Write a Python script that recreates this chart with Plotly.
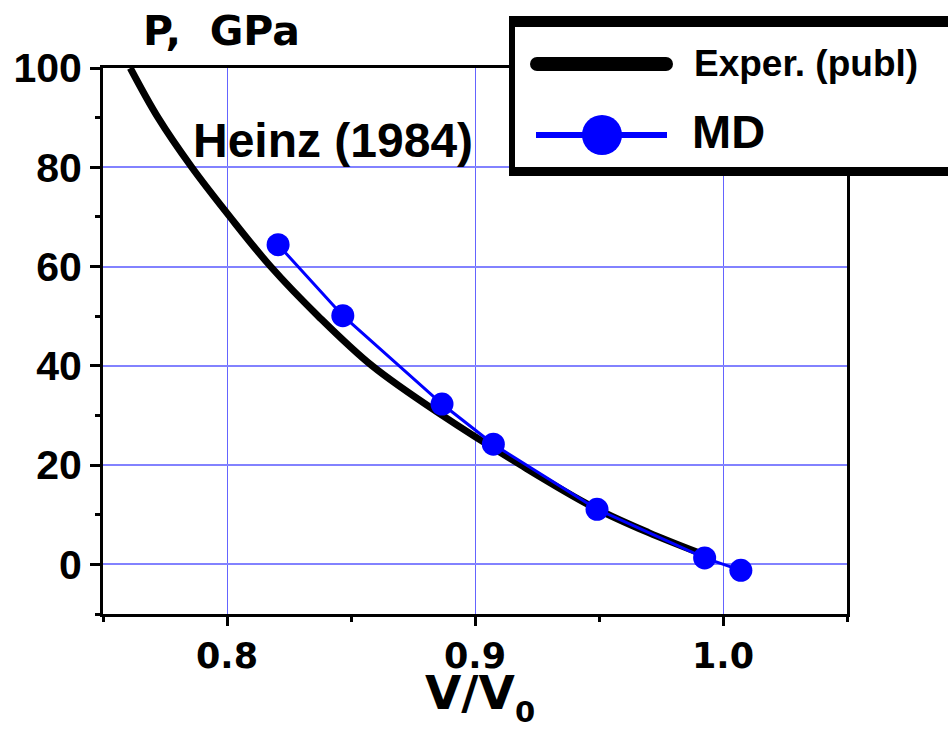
import plotly.graph_objects as go

# Published experimental isotherm (Heinz 1984), sampled along the curve
exp_v = [0.761, 0.7722, 0.7858, 0.8012, 0.8176, 0.8368, 0.8585, 0.8868, 0.9185, 0.9478, 0.970, 0.990]
exp_p = [100.0, 90.0, 80.0, 70.0, 60.0, 50.0, 40.0, 30.0, 20.0, 11.5, 6.4, 2.4]

# Molecular-dynamics results
md_v = [0.8206, 0.8467, 0.8867, 0.9074, 0.9492, 0.9926, 1.0072]
md_p = [64.4, 50.1, 32.3, 24.2, 11.1, 1.3, -1.2]

x_ticks = [0.8, 0.9, 1.0]
x_ticklabels = ["0.8", "0.9", "1.0"]
y_ticks = [0, 20, 40, 60, 80, 100]

W, H = 948, 731
ML, MR, MT, MB = 103, 101, 68, 117
PW, PH = W - ML - MR, H - MT - MB


def px(x):
    return (x - ML) / PW


def py(y):
    return (H - MB - y) / PH


BOLD_ARIAL = "Liberation Sans, Arial, sans-serif"
BOLD_WIDE = "DejaVu Sans, Verdana, sans-serif"

fig = go.Figure()
fig.add_trace(go.Scatter(
    x=exp_v, y=exp_p, mode="lines", name="Exper. (publ)",
    line=dict(color="black", width=7, shape="spline", smoothing=1.0),
    showlegend=False,
))
fig.add_trace(go.Scatter(
    x=md_v, y=md_p, mode="lines+markers", name="MD",
    line=dict(color="#0000ff", width=3),
    marker=dict(color="#0000ff", size=23),
    showlegend=False,
))

fig.update_xaxes(
    range=[0.75, 1.05], tickvals=x_ticks, ticktext=x_ticklabels,
    showline=True, linecolor="black", linewidth=3, mirror=True,
    ticks="outside", ticklen=9, tickwidth=3, tickcolor="black",
    showgrid=True, gridcolor="rgb(100,100,255)", gridwidth=1,
    zeroline=False,
    minor=dict(tick0=0.75, dtick=0.05, ticks="outside", ticklen=5,
               tickwidth=3, tickcolor="black", showgrid=False),
    tickfont=dict(family=BOLD_WIDE, size=35, color="black", weight="bold"),
)
fig.update_yaxes(
    range=[-10, 100], tickvals=y_ticks,
    showline=True, linecolor="black", linewidth=3, mirror=True,
    ticks="outside", ticklen=10, tickwidth=3, tickcolor="black",
    showgrid=True, gridcolor="rgb(130,130,255)", gridwidth=2,
    zeroline=False,
    minor=dict(tick0=-10, dtick=10, ticks="outside", ticklen=5,
               tickwidth=3, tickcolor="black", showgrid=False),
    tickfont=dict(family=BOLD_ARIAL, size=41, color="black", weight="bold"),
)

shapes = [
    # legend frame
    dict(type="rect", xref="paper", yref="paper", layer="above",
         x0=px(509), x1=px(965), y0=py(176), y1=py(16),
         fillcolor="black", line=dict(width=0)),
    dict(type="rect", xref="paper", yref="paper", layer="above",
         x0=px(515), x1=px(965), y0=py(167), y1=py(27),
         fillcolor="white", line=dict(width=0)),
    # legend sample: experimental curve
    dict(type="line", xref="paper", yref="paper", layer="above",
         x0=px(537), x1=px(666), y0=py(64), y1=py(64),
         line=dict(color="black", width=14)),
    dict(type="circle", xref="paper", yref="paper", layer="above",
         x0=px(530), x1=px(544), y0=py(71), y1=py(57),
         fillcolor="black", line=dict(width=0)),
    dict(type="circle", xref="paper", yref="paper", layer="above",
         x0=px(659), x1=px(673), y0=py(71), y1=py(57),
         fillcolor="black", line=dict(width=0)),
    # legend sample: MD line and marker
    dict(type="line", xref="paper", yref="paper", layer="above",
         x0=px(536), x1=px(667), y0=py(135), y1=py(135),
         line=dict(color="#0000ff", width=6)),
    dict(type="circle", xref="paper", yref="paper", layer="above",
         x0=px(582), x1=px(622), y0=py(155), y1=py(115),
         fillcolor="#0000ff", line=dict(width=0)),
]

annotations = [
    # y-axis title
    dict(text="P,\u00a0\u00a0GPa", xref="paper", yref="paper",
         x=px(221), y=py(31), xanchor="center", yanchor="middle", showarrow=False,
         font=dict(family=BOLD_WIDE, size=41, color="black", weight="bold")),
    # x-axis title, V/V with subscript 0
    dict(text="V/V", xref="paper", yref="paper",
         x=px(470), y=py(692), xanchor="center", yanchor="middle", showarrow=False,
         font=dict(family=BOLD_WIDE, size=47, color="black", weight="bold")),
    dict(text="0", xref="paper", yref="paper",
         x=px(525), y=py(731), xanchor="center", yanchor="bottom", showarrow=False,
         font=dict(family=BOLD_WIDE, size=29, color="black", weight="bold")),
    dict(text="Heinz (1984)", xref="paper", yref="paper",
         x=px(191), y=py(140), xanchor="left", yanchor="middle", showarrow=False,
         font=dict(family=BOLD_ARIAL, size=48, color="black", weight="bold")),
    dict(text="Exper. (publ)", xref="paper", yref="paper",
         x=px(692), y=py(63), xanchor="left", yanchor="middle", showarrow=False,
         font=dict(family=BOLD_ARIAL, size=37, color="black", weight="bold")),
    dict(text="MD", xref="paper", yref="paper",
         x=px(690), y=py(131), xanchor="left", yanchor="middle", showarrow=False,
         font=dict(family=BOLD_ARIAL, size=47, color="black", weight="bold")),
]

fig.update_layout(
    width=W, height=H,
    margin=dict(l=ML, r=MR, t=MT, b=MB, autoexpand=False),
    paper_bgcolor="white", plot_bgcolor="white",
    showlegend=False,
    shapes=shapes, annotations=annotations,
)

fig.write_html("out.html")
